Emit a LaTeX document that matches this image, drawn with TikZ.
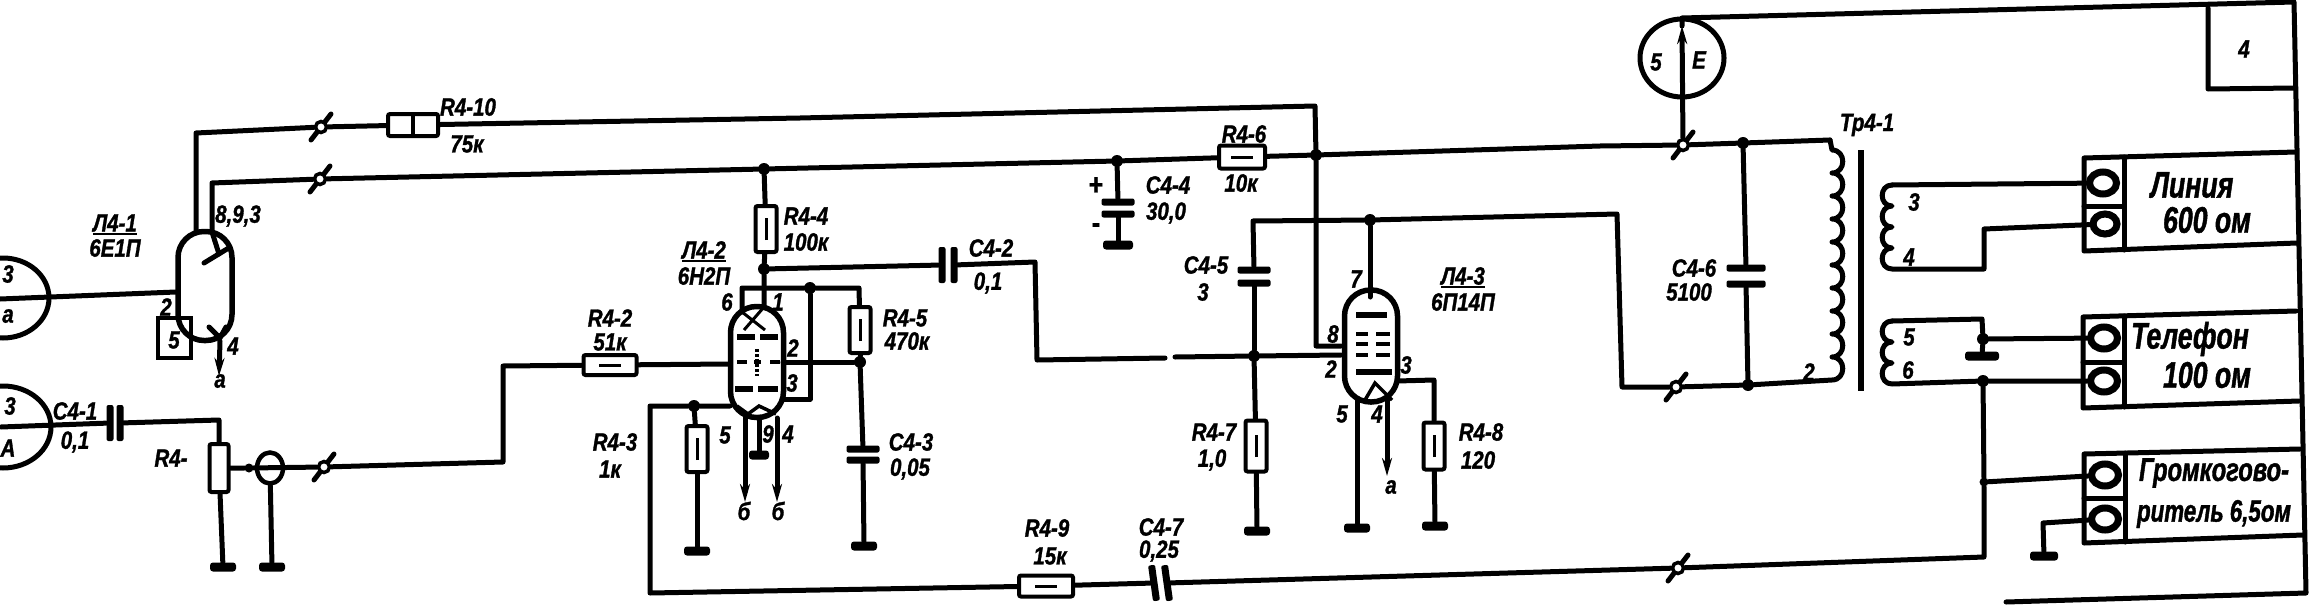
\documentclass[tikz,border=0pt]{standalone}
\usepackage{fontspec}
\newfontfamily\lblfont[FakeStretch=0.82,FakeBold=1.2]{Liberation Sans}
\newfontfamily\bigfont[FakeStretch=0.72,FakeBold=1.2]{Liberation Sans}
\usetikzlibrary{arrows.meta,positioning,shapes.geometric}
\tikzset{
  wire/.style={line width=5pt,line join=round,line cap=round},
  lbl/.style={font=\lblfont\bfseries\itshape\fontsize{25}{27}\selectfont,inner sep=0pt},
  biglbl/.style={font=\bigfont\bfseries\itshape\fontsize{37}{40}\selectfont,inner sep=0pt},
  tube/.style={draw,line width=5.5pt,rounded corners=26pt,minimum width=53pt,minimum height=110pt,inner sep=0pt},
  dot/.style={circle,fill=black,inner sep=0pt,minimum size=12pt},
  gnd/.style={fill=black,rounded corners=3pt,inner sep=0pt,minimum width=26pt,minimum height=9pt},
  plateh/.style={fill=black,rounded corners=2pt,inner sep=0pt,minimum width=33pt,minimum height=7pt},
  platev/.style={fill=black,rounded corners=2pt,inner sep=0pt,minimum width=7pt,minimum height=36pt},
  resv/.style={draw,fill=white,line width=4pt,rounded corners=2pt,inner sep=0pt,minimum width=21pt,minimum height=46pt,
    path picture={\draw[line width=3pt] ([yshift=-11pt]path picture bounding box.center) -- ([yshift=11pt]path picture bounding box.center);}},
  resh/.style={draw,fill=white,line width=4pt,rounded corners=2pt,inner sep=0pt,minimum width=48pt,minimum height=20pt,
    path picture={\draw[line width=3pt] ([xshift=-11pt]path picture bounding box.center) -- ([xshift=11pt]path picture bounding box.center);}},
  swpin/.style={circle,draw,fill=white,line width=3.5pt,inner sep=0pt,minimum size=11pt},
  jack/.style={ellipse,draw,fill=white,line width=7pt,inner sep=0pt,minimum width=27pt,minimum height=22pt},
  pinarrow/.style={wire,-{Stealth[length=18pt,width=10pt]}},
}
\begin{document}
\begin{tikzpicture}[x=1pt,y=-1pt]
      \useasboundingbox (0,0) rectangle (2320,610);
      \foreach \nm/\px/\py in {swa/321/127,swb/320/179,swc/324/467,swd/1683/145,swe/1676/387,swf/1678/568}{
        \draw[wire] (\px-10,\py+13) -- (\px+10,\py-13);
        \node[swpin] (\nm) at (\px,\py) {};
      }
      \node[ellipse,draw,line width=5pt,minimum width=92pt,minimum height=80pt] (ina) at (3,298) {};
      \node[ellipse,draw,line width=5pt,minimum width=96pt,minimum height=82pt] (inb) at (3,427) {};
      \node[tube,minimum width=54pt,minimum height=109pt] (tubea) at (205,286) {};
      \node[tube,minimum height=111pt] (tubeb) at (757,362) {};
      \node[tube,minimum height=112pt] (tubec) at (1371,346) {};
      \node[draw,line width=4pt,inner sep=0pt,minimum width=33pt,minimum height=40pt] (boxfive) at (174,338) {};
      \node[ellipse,draw,line width=5pt,inner sep=0pt,minimum width=84pt,minimum height=78pt] (meter) at (1682,58) {};
      \node[ellipse,draw,line width=4.5pt,inner sep=0pt,minimum width=26pt,minimum height=31pt] (shield) at (270,468) {};
      \node[resh,minimum width=50pt,minimum height=22pt,path picture={\draw[line width=4pt] (path picture bounding box.north) -- (path picture bounding box.south);}] (r410) at (413,125) {};
      \node[resh,minimum width=53pt] (r42) at (610,365) {};
      \node[resh,minimum width=46pt,minimum height=23pt] (r46) at (1242,157) {};
      \node[resh,minimum width=54pt,minimum height=21pt] (r49) at (1046,586) {};
      \node[resv,minimum height=46pt] (r44) at (766,229) {};
      \node[resv] (r45) at (860,330) {};
      \node[resv] (r43) at (697,449) {};
      \node[resv,minimum height=51pt] (r47) at (1256,446) {};
      \node[resv,minimum height=47pt] (r48) at (1434,446) {};
      \node[resv,minimum width=19pt,minimum height=48pt,path picture={}] (r41) at (219,468) {};
      \node[dot] (jb) at (764,169) {};
      \node[dot] (jc) at (1117,161) {};
      \node[dot] (jd) at (1316,155) {};
      \node[dot] (je) at (764,269) {};
      \node[dot] (jf) at (810,288) {};
      \node[dot] (jg) at (860,362) {};
      \node[dot] (jh) at (694,406) {};
      \node[dot] (ji) at (1254,356) {};
      \node[dot] (jj) at (1370,220) {};
      \node[dot] (jk) at (1743,143) {};
      \node[dot] (jl) at (1748,385) {};
      \node[dot] (jm) at (1983,339) {};
      \node[dot] (jn) at (1983,381) {};
      \node[dot,minimum size=9pt] (jo) at (1984,482) {};
      \node[dot,minimum size=9pt] (jp) at (249,468) {};
      \node[platev] (c41a) at (110,423) {};
      \node[platev] (c41b) at (120,423) {};
      \node[platev] (c42a) at (942,265) {};
      \node[platev] (c42b) at (954,265) {};
      \node[plateh] (c43a) at (863,449) {};
      \node[plateh] (c43b) at (863,460) {};
      \node[plateh] (c44a) at (1118,202) {};
      \node[plateh] (c44b) at (1118,214) {};
      \node[plateh] (c45a) at (1254,270) {};
      \node[plateh] (c45b) at (1254,283) {};
      \node[plateh,minimum width=39pt] (c46a) at (1746,268) {};
      \node[plateh,minimum width=39pt] (c46b) at (1746,284) {};
      \node[platev,rotate=8] (c47a) at (1154,583) {};
      \node[platev,rotate=8] (c47b) at (1167,583) {};
      \node[gnd] (ga) at (223,567) {};
      \node[gnd] (gb) at (272,567) {};
      \node[gnd] (gc) at (697,551) {};
      \node[gnd] (gd) at (864,546) {};
      \node[gnd,minimum width=20pt] (ge) at (759,455) {};
      \node[gnd,minimum width=30pt] (gf) at (1118,245) {};
      \node[gnd] (gg) at (1257,531) {};
      \node[gnd] (gh) at (1357,528) {};
      \node[gnd] (gi) at (1435,526) {};
      \node[gnd,minimum width=28pt] (gj) at (2044,556) {};
      \node[gnd,minimum width=34pt] (gk) at (1982,356) {};
      \node[jack] (ja) at (2103,183) {};
      \node[jack,minimum width=24pt,minimum height=20pt] (jb2) at (2105,224) {};
      \node[jack] (jc2) at (2104,338) {};
      \node[jack] (jd2) at (2104,381) {};
      \node[jack] (je2) at (2105,475) {};
      \node[jack] (jf2) at (2105,519) {};
      \coordinate (a1) at (196,232);
      \coordinate (a2) at (196,133);
      \coordinate (a3) at (212,232);
      \coordinate (a4) at (212,183);
      \coordinate (a5) at (220,341);
      \coordinate (a6) at (219,376);
      \coordinate (a7) at (176,292);
      \coordinate (a8) at (0,299);
      \coordinate (a9) at (1,427);
      \coordinate (t1) at (1315,106);
      \coordinate (t2) at (800,118);
      \coordinate (t3) at (1316,346);
      \coordinate (t4) at (1341,346);
      \coordinate (t5) at (1600,146);
      \coordinate (t6) at (1830,140);
      \coordinate (b1) at (764,288);
      \coordinate (b2) at (742,288);
      \coordinate (b3) at (742,312);
      \coordinate (b4) at (764,307);
      \coordinate (b5) at (859,288);
      \coordinate (b6) at (783,362);
      \coordinate (b7) at (810,399);
      \coordinate (b8) at (783,399);
      \coordinate (b9) at (730,406);
      \coordinate (b10) at (730,364);
      \coordinate (d1) at (1035,262);
      \coordinate (d2) at (1037,360);
      \coordinate (d3) at (1165,358);
      \coordinate (d4) at (1175,357);
      \coordinate (d5) at (1341,355);
      \coordinate (e1) at (219,420);
      \coordinate (e2) at (503,462);
      \coordinate (e3) at (503,366);
      \coordinate (f1) at (650,406);
      \coordinate (f2) at (650,593);
      \coordinate (f3) at (1984,557);
      \coordinate (h1) at (1253,221);
      \coordinate (h2) at (1617,214);
      \coordinate (h3) at (1622,387);
      \coordinate (k1) at (1397,381);
      \coordinate (k2) at (1434,380);
      \coordinate (k3) at (1370,297);
      \coordinate (k4) at (1387,397);
      \coordinate (k5) at (1387,476);
      \coordinate (k6) at (1357,400);
      \coordinate (m1) at (1682,18);
      \coordinate (m2) at (1682,26);
      \coordinate (m3) at (2294,2);
      \coordinate (m4) at (2306,593);
      \coordinate (m5) at (2006,602);
      \coordinate (s1) at (1892,185);
      \coordinate (s2) at (1892,269);
      \coordinate (s3) at (1984,269);
      \coordinate (s4) at (1984,229);
      \coordinate (s5) at (1892,321);
      \coordinate (s6) at (1892,384);
      \coordinate (s7) at (1982,319);
      \coordinate (l1) at (2043,523);
      \coordinate (q1) at (745,418);
      \coordinate (q2) at (745,502);
      \coordinate (q3) at (777,418);
      \coordinate (q4) at (777,502);
      \coordinate (q5) at (759,418);
      \draw[wire] (a8) -- (a7);
      \draw[wire] (a1) -- (a2) -- (swa);
      \draw[wire] (swa) -- (r410);
      \draw[wire] (r410) -- (t2) -- (t1) -- (jd) -- (t3) -- (t4);
      \draw[wire] (a3) -- (a4) -- (swb);
      \draw[wire] (swb) -- (jb) -- (jc) -- (r46);
      \draw[wire] (r46) -- (jd) -- (t5) -- (swd);
      \draw[wire] (swd) -- (jk) -- (t6);
      \draw[pinarrow] (a5) -- (a6);
      \draw[wire] (a9) -- (c41a);
      \draw[wire] (c41b) -- (e1) -- (r41);
      \draw[wire] (r41) -- (ga);
      \draw[wire] (r41) -- (jp) -- (swc);
      \draw[wire] (swc) -- (e2) -- (e3) -- (r42);
      \draw[wire] (r42) -- (b10);
      \draw[wire] (shield) -- (gb);
      \draw[wire] (jb) -- (r44);
      \draw[wire] (r44) -- (je) -- (b1) -- (b4);
      \draw[wire] (b3) -- (b2) -- (b1) -- (jf) -- (b5) -- (r45);
      \draw[wire] (r45) -- (jg) -- (b6);
      \draw[wire] (je) -- (c42a);
      \draw[wire] (c42b) -- (d1) -- (d2) -- (d3);
      \draw[wire] (d4) -- (ji) -- (d5);
      \draw[wire] (jf) -- (b7) -- (b8);
      \draw[wire] (jg) -- (c43a);
      \draw[wire] (c43b) -- (gd);
      \draw[wire] (b9) -- (jh) -- (f1) -- (f2) -- (r49);
      \draw[wire] (jh) -- (r43);
      \draw[wire] (r43) -- (gc);
      \draw[wire] (r49) -- (c47a);
      \draw[wire] (c47b) -- (swf);
      \draw[wire] (swf) -- (f3) -- (jo) -- (jn) -- (jd2);
      \draw[pinarrow] (q1) -- (q2);
      \draw[pinarrow] (q3) -- (q4);
      \draw[wire] (q5) -- (ge);
      \draw[wire] (jc) -- (c44a);
      \draw[wire] (c44b) -- (gf);
      \draw[wire] (c45b) -- (ji);
      \draw[wire] (c45a) -- (h1) -- (jj) -- (h2) -- (h3) -- (swe);
      \draw[wire] (swe) -- (jl);
      \draw[wire] (ji) -- (r47);
      \draw[wire] (r47) -- (gg);
      \draw[wire] (jj) -- (k3);
      \draw[wire] (k6) -- (gh);
      \draw[pinarrow] (k4) -- (k5);
      \draw[wire] (k1) -- (k2) -- (r48);
      \draw[wire] (r48) -- (gi);
      \draw[wire] (jk) -- (c46a);
      \draw[wire] (c46b) -- (jl);
      \draw[pinarrow] (swd) -- (m2);
      \draw[wire] (m2) -- (m1) -- (m3) -- (m4) -- (m5);
      \draw[wire] (t6) -- ++(2,10) \foreach \k in {1,...,10}{to[out=0,in=0,looseness=1.6] ++(0,23)} -- (jl);
      \draw[wire] (s1) \foreach \k in {1,...,4}{to[out=180,in=180,looseness=1.6] ++(0,21)} -- (s2) -- (s3) -- (s4) -- (jb2);
      \draw[wire] (s1) -- (ja);
      \draw[wire] (s5) \foreach \k in {1,...,3}{to[out=180,in=180,looseness=1.6] ++(0,21)} -- (jn);
      \draw[wire] (s5) -- (s7) -- (jm) -- (gk);
      \draw[wire] (jm) -- (jc2);
      \draw[wire] (jo) -- (je2);
      \draw[wire] (jf2) -- (l1) -- (gj);
      \draw[line width=6.5pt] (1861,150) -- (1861,391);
      \draw[wire] (204,263) -- (227,249);
      \draw[wire] (a3) -- (219,254);
      \draw[wire] (209,327) -- (220,338) -- (226,327);
      \draw[line width=6pt] (737,337) -- (755,337) (760,337) -- (778,337);
      \draw[line width=6pt] (735,389) -- (753,389) (758,389) -- (778,389);
      \draw[line width=3.5pt] (737,362) -- (747,362) (754,362) -- (761,362) (770,362) -- (780,362);
      \draw[line width=3.5pt,densely dashed] (757,349) -- (757,376);
      \draw[line width=3pt] (742,312) -- (765,330) (764,307) -- (744,330);
      \draw[line width=3.5pt] (737,406) -- (748,414) -- (759,406) -- (776,414);
      \draw[line width=6pt] (1356,315) -- (1387,315);
      \draw[line width=6pt] (1356,372) -- (1392,372);
      \foreach \gy in {334,344,355}{
        \draw[line width=3.5pt] (1356,\gy) -- (1368,\gy) (1376,\gy) -- (1390,\gy);
      }
      \draw[line width=3.5pt] (1365,400) -- (1375,383) -- (1392,400);
      \draw[wire] (2208,8) -- (2208,89) -- (2295,88);
      \draw[wire] (2296,152) -- (2084,158) -- (2084,251) -- (2297,243);
      \draw[wire] (2124,157) -- (2124,250) (2084,206) -- (2124,206);
      \draw[wire] (2296,311) -- (2083,317) -- (2083,408) -- (2299,401);
      \draw[wire] (2124,316) -- (2124,407) (2083,362) -- (2124,362);
      \draw[wire] (2300,449) -- (2084,454) -- (2084,543) -- (2303,535);
      \draw[wire] (2125,453) -- (2125,542) (2084,498) -- (2125,498);
      \node[lbl] (na) at (8,274) {3};
      \node[lbl] (nb) at (8,316) {а};
      \node[lbl] (nc) at (10,406) {3};
      \node[lbl] (nd) at (8,448) {А};
      \node[lbl] (tla) at (115,223) {Л4-1};
      \node[lbl] (tlb) at (115,248) {6Е1П};
      \node[lbl] (tlc) at (704,250) {Л4-2};
      \node[lbl] (tld) at (704,276) {6Н2П};
      \node[lbl] (tle) at (1463,276) {Л4-3};
      \node[lbl] (tlf) at (1463,302) {6П14П};
      \draw[line width=2.5pt] ([yshift=-2pt]tla.south west) -- ([yshift=-2pt]tla.south east);
      \draw[line width=2.5pt] ([yshift=-2pt]tlc.south west) -- ([yshift=-2pt]tlc.south east);
      \draw[line width=2.5pt] ([yshift=-2pt]tle.south west) -- ([yshift=-2pt]tle.south east);
      \node[lbl] (pa) at (238,216) {8,9,3};
      \node[lbl] (pb) at (166,307) {2};
      \node[lbl] (pc) at (174,340) {5};
      \node[lbl] (pd) at (233,346) {4};
      \node[lbl] (pe) at (220,381) {а};
      \node[lbl] (pf) at (727,302) {6};
      \node[lbl] (pg) at (778,302) {1};
      \node[lbl] (ph) at (793,348) {2};
      \node[lbl] (pi) at (792,383) {3};
      \node[lbl] (pj) at (725,435) {5};
      \node[lbl] (pk) at (768,434) {9};
      \node[lbl] (pl) at (788,434) {4};
      \node[lbl] (pm) at (744,511) {б};
      \node[lbl] (pn) at (778,511) {б};
      \node[lbl] (po) at (1356,279) {7};
      \node[lbl] (pp) at (1333,334) {8};
      \node[lbl] (pq) at (1331,369) {2};
      \node[lbl] (pr) at (1406,365) {3};
      \node[lbl] (ps) at (1342,414) {5};
      \node[lbl] (pt) at (1377,414) {4};
      \node[lbl] (pu) at (1391,487) {а};
      \node[lbl] (lc41) at (75,411) {С4-1};
      \node[lbl] (vc41) at (75,442) {0,1};
      \node[lbl] (lr41) at (171,458) {R4-};
      \node[lbl] (lr410) at (468,107) {R4-10};
      \node[lbl] (vr410) at (467,144) {75к};
      \node[lbl] (lr42) at (610,318) {R4-2};
      \node[lbl] (vr42) at (610,342) {51к};
      \node[lbl] (lr43) at (615,442) {R4-3};
      \node[lbl] (vr43) at (610,469) {1к};
      \node[lbl] (lr44) at (806,216) {R4-4};
      \node[lbl] (vr44) at (806,242) {100к};
      \node[lbl] (lr45) at (905,318) {R4-5};
      \node[lbl] (vr45) at (907,341) {470к};
      \node[lbl] (lc42) at (991,248) {С4-2};
      \node[lbl] (vc42) at (988,283) {0,1};
      \node[lbl] (lc43) at (911,442) {С4-3};
      \node[lbl] (vc43) at (910,469) {0,05};
      \node[lbl] (lc44) at (1168,185) {С4-4};
      \node[lbl] (vc44) at (1166,213) {30,0};
      \node[lbl,font=\lblfont\bfseries\fontsize{30}{30}\selectfont] (plus) at (1096,186) {+};
      \node[lbl,font=\lblfont\bfseries\fontsize{30}{30}\selectfont] (minus) at (1096,228) {-};
      \node[lbl] (lr46) at (1244,134) {R4-6};
      \node[lbl] (vr46) at (1241,183) {10к};
      \node[lbl] (lc45) at (1206,265) {С4-5};
      \node[lbl] (vc45) at (1203,292) {3};
      \node[lbl] (lr47) at (1214,432) {R4-7};
      \node[lbl] (vr47) at (1212,460) {1,0};
      \node[lbl] (lr48) at (1481,432) {R4-8};
      \node[lbl] (vr48) at (1478,460) {120};
      \node[lbl] (lr49) at (1047,528) {R4-9};
      \node[lbl] (vr49) at (1050,556) {15к};
      \node[lbl] (lc47) at (1161,527) {С4-7};
      \node[lbl] (vc47) at (1159,551) {0,25};
      \node[lbl] (lc46) at (1694,268) {С4-6};
      \node[lbl] (vc46) at (1689,292) {5100};
      \node[lbl] (ltr) at (1867,125) {Тр4-1};
      \node[lbl] (wa) at (1809,372) {2};
      \node[lbl] (wb) at (1914,202) {3};
      \node[lbl] (wc) at (1909,257) {4};
      \node[lbl] (wd) at (1909,337) {5};
      \node[lbl] (we) at (1908,370) {6};
      \node[lbl] (mta) at (1656,62) {5};
      \node[lbl] (mtb) at (1699,60) {Е};
      \node[lbl] (blk) at (2244,49) {4};
      \node[biglbl] (tline) at (2192,185) {Линия};
      \node[biglbl] (tlineb) at (2207,220) {600 ом};
      \node[biglbl] (ttel) at (2190,339) {Телефон};
      \node[biglbl] (ttelb) at (2207,375) {100 ом};
      \node[biglbl,font=\bigfont\bfseries\itshape\fontsize{33}{36}\selectfont] (tgr) at (2214,473) {Громкогово-};
      \node[biglbl,font=\bigfont\bfseries\itshape\fontsize{31}{34}\selectfont] (tgrb) at (2214,514) {ритель 6,5ом};
    \end{tikzpicture}
\end{document}
